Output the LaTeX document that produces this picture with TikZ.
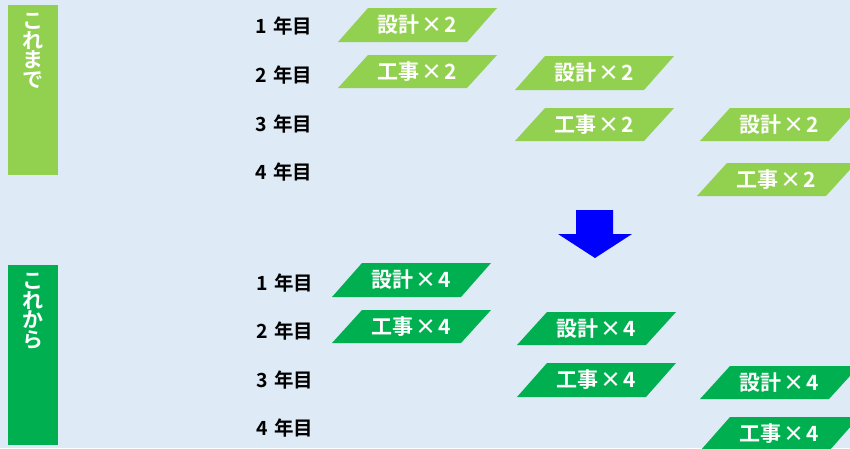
\documentclass[tikz,border=0pt]{standalone}
\usepackage{fontspec}
\newfontfamily\jp{Noto Sans CJK JP}[BoldFont={Noto Sans CJK JP Bold}]
\definecolor{bg}{HTML}{DEEAF6}
\definecolor{lgreen}{HTML}{92D050}
\definecolor{dgreen}{HTML}{00B050}
\definecolor{arrowblue}{HTML}{0000FF}
\tikzset{
  boxtext/.style={text=white,font=\jp\bfseries\fontsize{21}{21}\selectfont,inner sep=0pt,anchor=center},
  yeartext/.style={text=black,font=\jp\bfseries\fontsize{19.5}{19.5}\selectfont,inner sep=0pt,anchor=center},
  sidetext/.style={text=white,font=\jp\bfseries\fontsize{21}{19.5}\selectfont,inner sep=0pt,align=center,anchor=north},
}
\newcommand{\tms}{\kern2pt×\kern2pt}
% \pgbox{name}{left x}{top y}{bottom y}{colour}{text}
\newcommand{\pgbox}[6]{%
  \fill[#5] (#2,#4) -- (#2+30,#3) -- (#2+159,#3) -- (#2+129,#4) -- cycle;
  \node[boxtext] (#1) at (#2+79.5,{(#3+#4)/2}) {#6};
}
\begin{document}
\begin{tikzpicture}[x=1pt,y=-1pt]
\useasboundingbox (0,0) rectangle (850,448);
\fill[bg] (0,0) rectangle (850,448);
% side bars
\fill[lgreen] (8,5) rectangle (58,175);
\node[sidetext] (past) at (33,13) {こ\\れ\\ま\\で};
\fill[dgreen] (8,265) rectangle (58,445);
\node[sidetext] (future) at (33,273) {こ\\れ\\か\\ら};
% year labels
\node[yeartext] (y1a) at (284,26) {1\kern2pt{} 年目};
\node[yeartext] (y2a) at (284,75) {2\kern2pt{} 年目};
\node[yeartext] (y3a) at (284,124) {3\kern2pt{} 年目};
\node[yeartext] (y4a) at (284,172) {4\kern2pt{} 年目};
\node[yeartext] (y1b) at (285,283) {1\kern2pt{} 年目};
\node[yeartext] (y2b) at (285,331) {2\kern2pt{} 年目};
\node[yeartext] (y3b) at (285,380) {3\kern2pt{} 年目};
\node[yeartext] (y4b) at (285,428) {4\kern2pt{} 年目};
% top boxes
\pgbox{a1}{338}{8}{42}{lgreen}{設計\tms 2}
\pgbox{a2}{338}{55}{88}{lgreen}{工事\tms 2}
\pgbox{b2}{515}{56}{90}{lgreen}{設計\tms 2}
\pgbox{b3}{515}{108}{141}{lgreen}{工事\tms 2}
\pgbox{c3}{700}{108}{141}{lgreen}{設計\tms 2}
\pgbox{c4}{697}{163}{196}{lgreen}{工事\tms 2}
% arrow
\fill[arrowblue] (576,210) -- (613,210) -- (613,234) -- (632,234) -- (595,258) -- (558,234) -- (576,234) -- cycle;
% bottom boxes
\pgbox{d1}{332}{263}{297}{dgreen}{設計\tms 4}
\pgbox{d2}{332}{310}{343}{dgreen}{工事\tms 4}
\pgbox{e2}{517}{312}{345}{dgreen}{設計\tms 4}
\pgbox{e3}{517}{363}{397}{dgreen}{工事\tms 4}
\pgbox{f3}{700}{366}{399}{dgreen}{設計\tms 4}
\pgbox{f4}{700}{417}{451}{dgreen}{工事\tms 4}
\end{tikzpicture}
\end{document}
